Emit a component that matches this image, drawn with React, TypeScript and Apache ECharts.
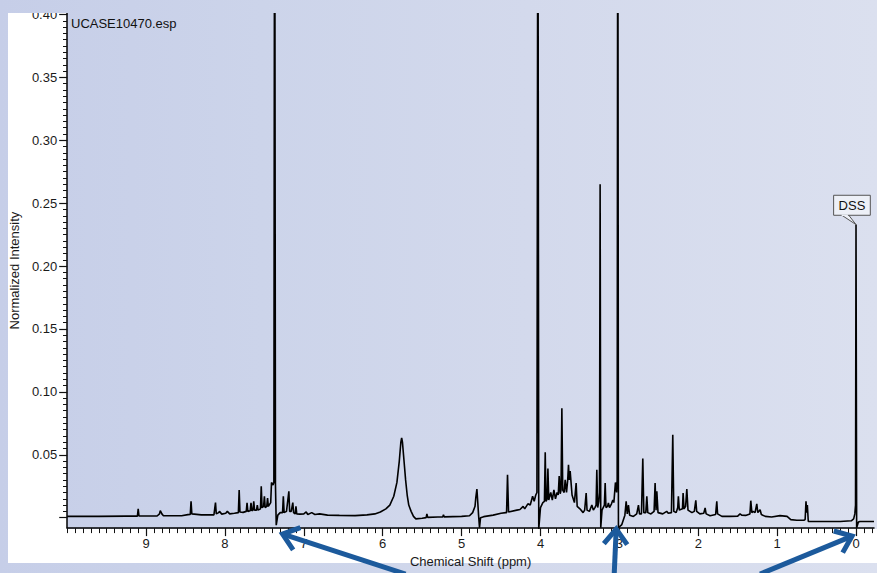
import React, { useEffect, useRef } from "react";
import * as echarts from "echarts";

// Spectrum: [chemical shift (ppm), normalized intensity]
const aromaticRegion: [number, number][] = [
  [10.0, 0.001], [9.6, 0.001], [9.25, 0.0012], [9.11, 0.0012], [9.1, 0.007], [9.09, 0.0013],
  [8.86, 0.0013], [8.83, 0.003], [8.82, 0.0056], [8.8, 0.003], [8.78, 0.0015], [8.55, 0.0015],
  [8.47, 0.0024], [8.44, 0.0025], [8.43, 0.013], [8.42, 0.003], [8.3, 0.0022], [8.14, 0.0022],
  [8.12, 0.012], [8.11, 0.003], [8.08, 0.004], [8.07, 0.005], [8.04, 0.0028], [7.99, 0.0035],
  [7.97, 0.005], [7.94, 0.003], [7.88, 0.0035], [7.83, 0.004], [7.82, 0.022], [7.81, 0.0045],
  [7.77, 0.0042], [7.73, 0.005], [7.72, 0.0117], [7.71, 0.005], [7.68, 0.0055], [7.67, 0.0117],
  [7.66, 0.0055], [7.645, 0.006], [7.635, 0.013], [7.625, 0.006], [7.6, 0.006], [7.59, 0.01],
  [7.58, 0.006], [7.55, 0.007], [7.54, 0.025], [7.53, 0.008], [7.51, 0.009], [7.5, 0.017],
  [7.49, 0.008], [7.47, 0.009], [7.46, 0.0156], [7.45, 0.009], [7.42, 0.012], [7.41, 0.028],
  [7.39, 0.026], [7.38, 0.028], [7.37, 0.62], [7.36, 0.027], [7.35, -0.006], [7.33, 0.002],
  [7.3, 0.004], [7.27, 0.004], [7.26, 0.017], [7.25, 0.004], [7.22, 0.005], [7.19, 0.021],
  [7.18, 0.005], [7.16, 0.005], [7.14, 0.012], [7.13, 0.004], [7.11, 0.003], [7.1, 0.009],
  [7.09, 0.003], [7.05, 0.0028]
];

const midRegion: [number, number][] = [
  [7.0, 0.003], [6.97, 0.0045], [6.95, 0.0025], [6.9, 0.004], [6.86, 0.0025], [6.8, 0.003],
  [6.7, 0.002], [6.55, 0.0018], [6.35, 0.0016], [6.2, 0.0022], [6.1, 0.003], [6.03, 0.0045],
  [5.96, 0.007], [5.91, 0.01], [5.86, 0.017], [5.82, 0.028], [5.79, 0.045], [5.77, 0.06],
  [5.76, 0.0635], [5.75, 0.06], [5.73, 0.045], [5.71, 0.03], [5.69, 0.018], [5.67, 0.01],
  [5.64, 0.005], [5.61, 0.001], [5.58, -0.001], [5.5, -0.0005], [5.45, 0.0], [5.44, 0.003],
  [5.43, 0.0002], [5.3, 0.0005], [5.24, 0.0005], [5.23, 0.0022], [5.22, 0.0006], [5.0, 0.001],
  [4.9, 0.0015], [4.86, 0.004], [4.83, 0.009], [4.82, 0.016], [4.806, 0.0228], [4.795, 0.012],
  [4.785, 0.002], [4.773, -0.008], [4.76, 0.0], [4.72, 0.0008], [4.6, 0.002], [4.5, 0.0035],
  [4.44, 0.004]
];

const sugarRegion: [number, number][] = [
  [4.43, 0.004], [4.418, 0.034], [4.405, 0.0045], [4.3, 0.006], [4.26, 0.0065], [4.22, 0.009],
  [4.2, 0.007], [4.16, 0.011], [4.13, 0.01], [4.1, 0.017], [4.08, 0.013], [4.06, 0.018],
  [4.045, 0.02], [4.033, 0.58], [4.022, -0.009], [4.0, 0.008], [3.97, 0.012], [3.95, 0.013],
  [3.94, 0.052], [3.93, 0.013], [3.915, 0.015], [3.906, 0.039], [3.895, 0.014], [3.87, 0.02],
  [3.85, 0.014], [3.83, 0.022], [3.81, 0.015], [3.79, 0.02], [3.775, 0.018], [3.763, 0.033],
  [3.75, 0.019], [3.74, 0.022], [3.729, 0.087], [3.718, 0.022], [3.7, 0.02], [3.687, 0.03],
  [3.67, 0.02], [3.655, 0.03], [3.645, 0.042], [3.635, 0.03], [3.624, 0.037], [3.6, 0.018],
  [3.57, 0.012], [3.548, 0.0275], [3.535, 0.009], [3.5, 0.007], [3.46, 0.004], [3.44, 0.006],
  [3.421, 0.0196], [3.41, 0.006], [3.38, 0.005], [3.349, 0.01], [3.33, 0.006], [3.31, 0.008],
  [3.295, 0.01], [3.286, 0.038], [3.275, 0.008], [3.26, 0.013], [3.252, 0.02], [3.244, 0.265],
  [3.236, -0.008], [3.22, 0.006], [3.19, 0.01], [3.18, 0.0275], [3.17, 0.008], [3.15, 0.009],
  [3.139, 0.0117], [3.125, 0.008], [3.1, 0.011], [3.083, 0.014], [3.07, 0.012], [3.05, 0.028],
  [3.035, 0.02], [3.028, 0.03], [3.02, 0.6], [3.012, -0.008], [2.969, -0.0055]
];

const aliphaticRegion: [number, number][] = [
  [2.93, 0.002], [2.914, 0.013], [2.9, 0.003], [2.885, 0.01], [2.87, 0.002], [2.822, 0.001],
  [2.78, 0.003], [2.758, 0.01], [2.745, 0.003], [2.72, 0.003], [2.703, 0.047], [2.69, 0.004],
  [2.665, 0.004], [2.652, 0.017], [2.64, 0.004], [2.6, 0.003], [2.56, 0.005], [2.547, 0.0275],
  [2.535, 0.006], [2.525, 0.021], [2.51, 0.004], [2.45, 0.003], [2.4, 0.005], [2.38, 0.0035],
  [2.34, 0.004], [2.323, 0.066], [2.31, 0.005], [2.28, 0.004], [2.26, 0.008], [2.252, 0.017],
  [2.24, 0.006], [2.2, 0.007], [2.192, 0.0196], [2.18, 0.007], [2.16, 0.009], [2.145, 0.0228],
  [2.13, 0.006], [2.08, 0.004], [2.05, 0.005], [2.031, 0.0137], [2.02, 0.005], [1.98, 0.003],
  [1.93, 0.0035], [1.913, 0.0077], [1.9, 0.003], [1.85, 0.0015], [1.78, 0.0025], [1.765, 0.013],
  [1.755, 0.003], [1.7, 0.001], [1.6, 0.001], [1.5, 0.0012], [1.47, 0.003], [1.45, 0.002],
  [1.4, 0.0018], [1.345, 0.003], [1.334, 0.0135], [1.32, 0.004], [1.305, 0.005], [1.28, 0.004],
  [1.258, 0.011], [1.245, 0.004], [1.216, 0.0063], [1.2, 0.0025], [1.15, 0.001], [1.07, 0.0005],
  [0.963, 0.0016], [0.874, 0.001], [0.827, -0.0016], [0.75, -0.002], [0.66, -0.002],
  [0.645, -0.0015], [0.634, 0.013], [0.626, 0.004], [0.617, 0.01], [0.605, -0.003], [0.4, -0.003],
  [0.2, -0.003], [0.06, -0.0025], [0.03, -0.001], [0.015, 0.003], [0.006, 0.01], [0.0, 0.233],
  [-0.008, -0.008], [-0.03, -0.0035], [-0.05, -0.003], [-0.228, -0.003]
];

const xTickLabels = [0, 1, 2, 3, 4, 5, 6, 7, 8, 9];
const yTickValues = [0, 0.05, 0.1, 0.15, 0.2, 0.25, 0.3, 0.35, 0.4];
const yLabelValues = [0.05, 0.1, 0.15, 0.2, 0.25, 0.3, 0.35, 0.4];
const xRange = { min: -0.228, max: 10.0 };
const yRange = { min: -0.0083, max: 0.4012 };
const dssPeak: [number, number] = [0.0, 0.233];
const arrowTargetsPpm = [7.27, 3.04, 0.05];

const FONT = "'Liberation Sans', Arial, sans-serif";
const ARROW = "#1c5a9c";
const GRID = { left: 67, right: 3, top: 13, bottom: 44 };
const W = 877;
const PAGE_BG = "linear-gradient(90deg, #c6cee8 0%, #ccd4ea 30%, #d3d9ec 60%, #dbe0ef 100%)";

export default function App() {
  const ref = useRef<HTMLDivElement>(null);
  useEffect(() => {
    document.body.style.margin = "0";
    const chart = echarts.init(ref.current!, null, { renderer: "svg" });
    const spectrum = [...aromaticRegion, ...midRegion, ...sugarRegion, ...aliphaticRegion];
    const xMinor: number[] = [];
    for (let i = -2; i <= 100; i++) xMinor.push(i / 10);
    const yMinor: number[] = [];
    for (let i = 0; i <= 80; i++) yMinor.push(Math.round(i * 5) / 1000);
    const gridWidth = W - GRID.left - GRID.right;

    const axisText = { color: "#1a1a1a", fontSize: 13, fontFamily: FONT };
    chart.setOption({
      animation: false,
      backgroundColor: "transparent",
      grid: GRID,
      xAxis: [
        {
          type: "value", inverse: true, min: xRange.min, max: xRange.max,
          name: "Chemical Shift (ppm)", nameLocation: "middle", nameGap: 25,
          nameTextStyle: { ...axisText },
          axisLine: { show: true, onZero: false, lineStyle: { color: "#000", width: 1.5 } },
          axisTick: { show: true, customValues: xTickLabels, length: 8, lineStyle: { color: "#111", width: 1.2 } },
          axisLabel: { customValues: xTickLabels, margin: 9, ...axisText, formatter: (v: number) => String(v) },
          splitLine: { show: false },
        },
        {
          type: "value", inverse: true, min: xRange.min, max: xRange.max, position: "bottom", offset: 0,
          axisLine: { show: false, onZero: false },
          axisTick: { show: true, customValues: xMinor, length: 5, lineStyle: { color: "#111", width: 1 } },
          axisLabel: { show: false },
          splitLine: { show: false },
        },
      ],
      yAxis: [
        {
          type: "value", min: yRange.min, max: yRange.max, position: "left",
          name: "Normalized Intensity", nameLocation: "middle", nameGap: 43,
          nameTextStyle: { ...axisText },
          axisLine: { show: true, onZero: false, lineStyle: { color: "#000", width: 1.5 } },
          axisTick: { show: true, customValues: yTickValues, length: 8, lineStyle: { color: "#111", width: 1.2 } },
          axisLabel: { customValues: yLabelValues, margin: 10, ...axisText, formatter: (v: number) => v.toFixed(2) },
          splitLine: { show: false },
        },
        {
          type: "value", min: yRange.min, max: yRange.max, position: "right", offset: -gridWidth,
          axisLine: { show: false, onZero: false },
          axisTick: { show: true, inside: true, customValues: yMinor, length: 4, lineStyle: { color: "#111", width: 1 } },
          axisLabel: { show: false },
          splitLine: { show: false },
        },
      ],
      series: [
        {
          type: "line", xAxisIndex: 0, yAxisIndex: 0, data: spectrum, showSymbol: false,
          symbol: "none", clip: true, lineStyle: { color: "#000", width: 1.6 },
        },
      ],
    });

    const tip = chart.convertToPixel({ seriesIndex: 0 }, dssPeak) as number[];
    const axisY = chart.convertToPixel({ yAxisIndex: 0 }, yRange.min) as number;
    const boxX = tip[0] - 22.4;
    const boxY = tip[1] - 29.3;
    const graphics: any[] = [
      {
        type: "text", left: 71, top: 17, z: 10,
        style: { text: "UCASE10470.esp", fill: "#111", font: `13px ${FONT}` },
      },
      {
        type: "polygon", z: 10,
        shape: { points: [[boxX + 7.5, boxY + 19.5], [boxX + 14.8, boxY + 19.5], [tip[0], tip[1]]] },
        style: { fill: "#edf0f7", stroke: "#555", lineWidth: 1 },
      },
      {
        type: "rect", z: 11,
        shape: { x: boxX, y: boxY, width: 36.7, height: 20 },
        style: { fill: "#edf0f7", stroke: "#555", lineWidth: 1 },
      },
      {
        type: "line", z: 12,
        shape: { x1: boxX + 8, y1: boxY + 20, x2: boxX + 14.3, y2: boxY + 20 },
        style: { stroke: "#edf0f7", lineWidth: 1.5 },
      },
      {
        type: "text", z: 13, x: boxX + 18.35, y: boxY + 10.5,
        style: { text: "DSS", fill: "#111", font: `13px ${FONT}`, align: "center", verticalAlign: "middle" },
      },
    ];

    const tails = [[123, 40], [-2, 45], [-92, 38]];
    const tipOffsets = [6, 1, 8];
    arrowTargetsPpm.forEach((ppm, i) => {
      const tx = chart.convertToPixel({ xAxisIndex: 0 }, ppm) as number;
      const ty = axisY + tipOffsets[i];
      const sx = tx + tails[i][0];
      const sy = ty + tails[i][1];
      const dx = tx - sx, dy = ty - sy;
      const len = Math.hypot(dx, dy);
      const ux = dx / len, uy = dy / len;
      const L = 19, th = (38 * Math.PI) / 180;
      const rot = (a: number) => [ux * Math.cos(a) - uy * Math.sin(a), ux * Math.sin(a) + uy * Math.cos(a)];
      const r1 = rot(th), r2 = rot(-th);
      graphics.push({
        type: "polyline", z: 20,
        shape: { points: [[sx, sy], [tx - ux * 2, ty - uy * 2]] },
        style: { stroke: ARROW, lineWidth: 5, fill: null },
      });
      graphics.push({
        type: "polyline", z: 20,
        shape: { points: [[tx - r1[0] * L, ty - r1[1] * L], [tx, ty], [tx - r2[0] * L, ty - r2[1] * L]] },
        style: { stroke: ARROW, lineWidth: 5, fill: null, lineJoin: "miter" },
      });
    });
    chart.setOption({ graphic: graphics });

    return () => chart.dispose();
  }, []);

  return (
    <div
      style={{
        position: "fixed", left: 0, top: 0, width: W, height: 573, overflow: "hidden",
        background: PAGE_BG,
      }}
    >
      <div style={{ position: "absolute", left: 8, top: 13, width: 59, height: 550, background: "#fff" }} />
      <div style={{ position: "absolute", left: 8, top: 529, width: 869, height: 34, background: "#fff" }} />
      <div ref={ref} style={{ position: "absolute", left: 0, top: 0, width: W, height: 573 }} />
      <div style={{ position: "absolute", left: 0, top: 0, width: W, height: 13, background: PAGE_BG, pointerEvents: "none" }} />
    </div>
  );
}
